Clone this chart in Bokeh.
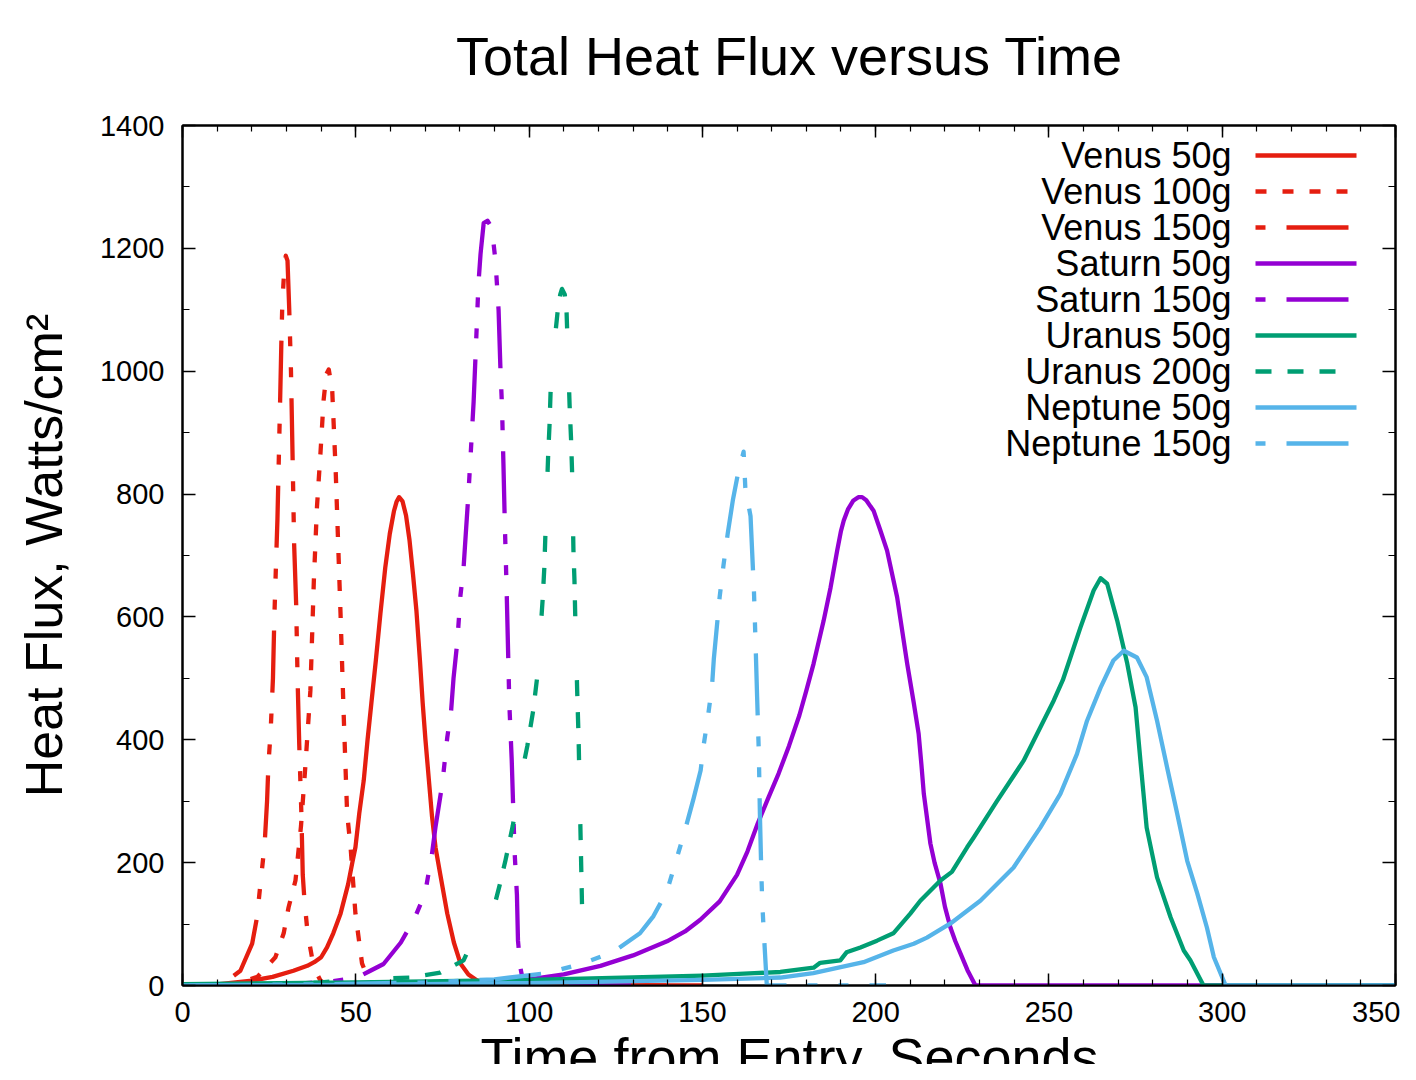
import math
from bokeh.plotting import figure
from bokeh.layouts import column
from bokeh.models import Range1d, LinearAxis, SingleIntervalTicker, Label
from bokeh.embed import file_html
from bokeh.resources import INLINE

# ---------------- data (time s, heat flux W/cm^2) ----------------
venus_50g_t = [0, 10, 20, 26, 32, 36, 38, 40, 41.7, 43.5, 45.6, 47.8, 49.0, 49.9, 51.0, 52.3, 53.4, 54.5, 55.8, 57.1, 58.5, 59.8, 61.0, 61.8, 62.5, 63.5, 64.5, 65.5, 66.5, 67.5, 68.5, 69.3, 70.1, 71.1, 72.0, 73.0, 74.4, 76.4, 78.3, 80.2, 82.5, 85, 88, 95, 150]
venus_50g_q = [0, 2, 8, 14, 24, 32, 38, 46, 62, 85, 117, 165, 200, 225, 280, 334, 400, 460, 530, 605, 680, 735, 772, 788, 795, 788, 765, 725, 670, 610, 530, 460, 400, 334, 275, 225, 180, 117, 70, 36, 18, 8, 3, 0, 0]

venus_100g_t = [0, 15, 21.6, 26.8, 29.2, 30.6, 32.6, 34.2, 35.5, 36.9, 37.9, 38.8, 39.8, 40.7, 41.5, 42.2, 43.2, 44.2, 45.6, 46.5, 47.5, 48.5, 49.9, 51.8, 54, 60, 100]
venus_100g_q = [0, 2, 14, 46, 85, 127, 171, 260, 361, 480, 659, 779, 866, 952, 995, 1003, 969, 838, 605, 442, 280, 225, 117, 36, 5, 0, 0]

venus_150g_t = [0, 10, 12.9, 16.7, 20.1, 21.5, 22.5, 23.7, 24.4, 24.8, 25.4, 26.1, 26.5, 27.0, 27.4, 27.8, 28.2, 28.5, 28.8, 29.3, 29.8, 30.3, 30.8, 31.3, 31.8, 32.2, 32.8, 33.2, 33.7, 34.3, 34.7, 35.2, 36.1, 37.9, 39.8, 42, 145]
venus_150g_q = [0, 0, 8, 24, 68, 111, 166, 230, 300, 361, 410, 500, 599, 690, 760, 860, 960, 1040, 1110, 1160, 1188, 1180, 1100, 1000, 850, 720, 620, 500, 390, 280, 180, 138, 85, 29, 8, 0, 0]

saturn_50g_t = [0, 60, 80, 90, 100, 110, 120.6, 130, 139.8, 145, 149.4, 155, 160, 163, 166, 169, 172, 175, 178, 180, 182.1, 185, 187, 188.9, 190, 190.8, 192, 193.5, 195, 196.1, 197.3, 198.5, 199.4, 201.3, 203.3, 206.2, 209.1, 211, 212.4, 213.2, 213.9, 215.8, 217, 218.7, 220, 221.6, 223, 224.5, 226.5, 228.8, 350]
saturn_50g_q = [0, 1, 3, 5, 10, 18, 32, 49, 72, 88, 107, 137, 180, 218, 264, 305, 345, 390, 440, 480, 524, 594, 648, 708, 740, 757, 775, 789, 795, 795, 790, 780, 773, 742, 708, 632, 524, 460, 410, 360, 312, 231, 200, 166, 128, 94, 72, 52, 25, 0, 0]

saturn_150g_t = [0, 30, 42, 50.5, 54.2, 58, 63, 67, 70, 72, 73, 75, 76.4, 77.5, 78.2, 79.3, 80.2, 81.1, 81.7, 82.5, 83.1, 84, 84.7, 85.4, 86, 86.9, 88, 88.9, 89.4, 90.3, 91.2, 91.7, 92.2, 92.6, 93, 93.5, 94.1, 94.3, 95, 95.8, 96.5, 96.8, 97.5, 98.5, 130]
saturn_150g_q = [0, 2, 6, 13, 24, 35, 70, 110, 150, 215, 258, 330, 404, 447, 500, 560, 635, 680, 732, 800, 860, 950, 1045, 1143, 1191, 1241, 1245, 1237, 1226, 1180, 1100, 1010, 941, 850, 752, 650, 508, 459, 366, 220, 147, 73, 29, 0, 0]

uranus_50g_t = [0, 50, 100, 130, 150, 165, 172.5, 182.1, 184, 189.8, 191.6, 195.6, 200.4, 205.1, 210, 212.9, 218.7, 222, 226.4, 228.3, 235, 242.7, 247.5, 251.4, 254, 256.2, 259.1, 262.9, 264.9, 266.8, 269.7, 272.6, 275, 276.4, 278.2, 281.2, 285.1, 288.9, 290.8, 294.6, 350]
uranus_50g_q = [2, 5, 9, 13, 16, 20, 22, 29, 37, 41, 54, 62, 73, 85, 117, 138, 171, 185, 225, 241, 300, 366, 420, 464, 497, 534, 583, 643, 663, 654, 594, 524, 453, 366, 257, 176, 111, 57, 41, 0, 0]

uranus_200g_t = [0, 20, 40, 45.6, 57.1, 65.8, 74.4, 81.1, 83.1, 85, 88.9, 91.5, 93.2, 95.3, 97.5, 99.5, 101.2, 102.3, 103, 103.9, 104.4, 104.7, 105.5, 105.9, 106.2, 107.2, 108.2, 109, 109.5, 110.3, 110.8, 111.7, 112.1, 112.4, 112.8, 113.1, 113.3, 113.9, 114.3, 114.8, 115.3]
uranus_200g_q = [0, 2, 5, 8, 11, 13, 21, 41, 65, 73, 106, 163, 204, 260, 334, 390, 448, 500, 552, 627, 680, 732, 862, 912, 965, 1040, 1095, 1125, 1134, 1125, 1100, 944, 891, 839, 709, 659, 607, 476, 400, 260, 125]

neptune_50g_t = [0, 50, 100, 130, 150, 172.5, 182, 196.5, 205.1, 211, 214.8, 221.6, 230.2, 239.8, 247.5, 253.3, 258.1, 261, 264.9, 268.6, 271.6, 275.4, 278.2, 281.2, 284.1, 287, 289.9, 292.8, 295.6, 297.6, 300.4, 301, 350]
neptune_50g_q = [0, 1, 4, 7, 9, 13, 20, 38, 57, 68, 78, 101, 138, 192, 257, 312, 377, 431, 485, 529, 545, 534, 502, 431, 355, 280, 203, 150, 94, 46, 8, 0, 0]

neptune_150g_t = [0, 40, 70, 90, 105, 115, 124.4, 132, 135.9, 139.8, 142.5, 145, 147.5, 149.5, 150.4, 151.6, 152.8, 153.3, 155, 156.1, 157.3, 158.8, 160.3, 161.9, 162.4, 163.9, 164.9, 165.3, 165.8, 166.3, 166.6, 167, 167.3, 167.7, 168.6, 203]
neptune_150g_q = [0, 2, 5, 10, 20, 35, 55, 85, 113, 154, 205, 253, 305, 350, 392, 437, 488, 531, 633, 684, 735, 790, 834, 869, 810, 764, 640, 567, 470, 378, 280, 186, 133, 90, 0, 0]

series_names = ["Venus 50g", "Venus 100g", "Venus 150g", "Saturn 50g", "Saturn 150g",
                "Uranus 50g", "Uranus 200g", "Neptune 50g", "Neptune 150g"]

x_ticks_interval = 50
y_ticks_interval = 200

title_text = "Total Heat Flux versus Time"
x_label_text = "Time from Entry, Seconds"
y_label_text = "Heat Flux, Watts/cm\u00b2"

# ---------------- styles ----------------
RED, PURPLE, GREEN, BLUE = "#e51e10", "#9400d3", "#009e73", "#56b4e9"
SOLID = "solid"
DOTTED = "11 16"
DASHDOTDOT = "62 21 10 21 10 21"
DASHED = "16 16 16 16 16 64"
PERIOD = {DOTTED: 27, DASHDOTDOT: 145, DASHED: 144}

# (t, q, colour, dash, where in the dash pattern the peak should fall)
styles = [
    (venus_50g_t, venus_50g_q, RED, SOLID, 0),
    (venus_100g_t, venus_100g_q, RED, DOTTED, 5),
    (venus_150g_t, venus_150g_q, RED, DASHDOTDOT, 2),
    (saturn_50g_t, saturn_50g_q, PURPLE, SOLID, 0),
    (saturn_150g_t, saturn_150g_q, PURPLE, DASHDOTDOT, 58),
    (uranus_50g_t, uranus_50g_q, GREEN, SOLID, 0),
    (uranus_200g_t, uranus_200g_q, GREEN, DASHED, 40),
    (neptune_50g_t, neptune_50g_q, BLUE, SOLID, 0),
    (neptune_150g_t, neptune_150g_q, BLUE, DASHDOTDOT, 88),
]

FONT = "Liberation Sans"
W = 1400
TITLE_H = 110                 # title strip: y 0..110
LEFT, TOP, FW, FH = 182, 15, 1213, 860   # main frame: x 182..1395, y 125..985
RIGHT = W - LEFT - FW
BOTTOM = 50
MAIN_H = TOP + FH + BOTTOM    # y 110..1035
XLAB_H = 1064 - TITLE_H - MAIN_H
X0, X1, Y0, Y1 = 0, 350, 0, 1400
SX, SY = FW / (X1 - X0), FH / (Y1 - Y0)

def dx(px):      # picture x -> data x
    return X0 + (px - LEFT) / SX

def dy(py):      # picture y -> data y (main plot)
    return Y0 + (TITLE_H + TOP + FH - py) / SY

def dash_offset(t, q, target, period):
    k = q.index(max(q))
    L = sum(math.hypot((t[i + 1] - t[i]) * SX, (q[i + 1] - q[i]) * SY) for i in range(k))
    return int(round((target - L) % period))

def strip(height):
    f = figure(width=W, height=height, output_backend="svg", toolbar_location=None,
               x_range=Range1d(X0, X1), y_range=Range1d(0, height),
               x_axis_type=None, y_axis_type=None,
               min_border_left=LEFT, min_border_right=RIGHT,
               min_border_top=0, min_border_bottom=0)
    f.title = None
    f.outline_line_color = None
    return f

# ---------------- title strip ----------------
ft = strip(TITLE_H)
ft.add_layout(Label(x=dx(789), y=TITLE_H - 55, text=title_text, text_align="center",
                    text_baseline="middle", text_font=FONT, text_font_size="54px",
                    text_color="black"))

# ---------------- main plot ----------------
p = figure(width=W, height=MAIN_H, output_backend="svg", toolbar_location=None,
           x_range=Range1d(X0, X1), y_range=Range1d(Y0, Y1),
           min_border_left=LEFT, min_border_right=RIGHT,
           min_border_top=TOP, min_border_bottom=BOTTOM,
           x_axis_type=None, y_axis_type=None)
p.title = None
p.grid.visible = False
p.background_fill_color = "white"
p.border_fill_color = "white"
p.outline_line_color = "black"
p.outline_line_width = 2

def make_axis(interval, minor, labels, tin, min_in):
    ax = LinearAxis(ticker=SingleIntervalTicker(interval=interval, num_minor_ticks=minor))
    ax.axis_line_color = "black"
    ax.axis_line_width = 2
    ax.major_tick_line_color = "black"
    ax.minor_tick_line_color = "black"
    ax.major_tick_line_width = 1.5
    ax.minor_tick_line_width = 1.2
    ax.major_tick_in = tin
    ax.major_tick_out = 0
    ax.minor_tick_in = min_in
    ax.minor_tick_out = 0
    ax.major_label_text_font = FONT
    ax.major_label_text_color = "black"
    if labels:
        ax.major_label_text_font_size = "29px"
    else:
        ax.major_label_text_font_size = "0px"
        ax.major_label_standoff = 0
    return ax

xb = make_axis(x_ticks_interval, 5, True, 12, 6)
xb.major_label_standoff = 16
yl = make_axis(y_ticks_interval, 2, True, 13, 7)
yl.major_label_standoff = 18
yl.axis_label = y_label_text
yl.axis_label_text_font = FONT
yl.axis_label_text_font_size = "52px"
yl.axis_label_text_font_style = "normal"
yl.axis_label_text_color = "black"
yl.axis_label_standoff = 24
xt = make_axis(x_ticks_interval, 5, False, 12, 6)
yr = make_axis(y_ticks_interval, 2, False, 13, 7)
p.add_layout(xb, "below")
p.add_layout(yl, "left")
p.add_layout(xt, "above")
p.add_layout(yr, "right")

for (t, q, c, d, target) in styles:
    off = dash_offset(t, q, target, PERIOD[d]) if d in PERIOD else 0
    p.line(t, q, line_color=c, line_width=4.3, line_dash=d, line_dash_offset=off,
           line_join="round")

# legend: text right-aligned, sample line to its right (gnuplot style)
row0, row_step = 155, 36
for i, (name, (t, q, c, d, target)) in enumerate(zip(series_names, styles)):
    ry = row0 + i * row_step
    p.add_layout(Label(x=dx(1231), y=dy(ry), text=name, text_align="right",
                       text_baseline="middle", text_font=FONT,
                       text_font_size="36px", text_color="black"))
    loff = 114 if d == DASHDOTDOT else 0
    p.line([dx(1255), dx(1356)], [dy(ry), dy(ry)], line_color=c, line_width=4.3,
           line_dash=d, line_dash_offset=loff)

# ---------------- x-axis label strip ----------------
fx = strip(XLAB_H)
fx.add_layout(Label(x=dx(789), y=XLAB_H - (1056 - TITLE_H - MAIN_H), text=x_label_text,
                    text_align="center", text_baseline="middle", text_font=FONT,
                    text_font_size="54px", text_color="black"))

layout = column(ft, p, fx, spacing=0)
open("out.html", "w").write(file_html(layout, INLINE))
